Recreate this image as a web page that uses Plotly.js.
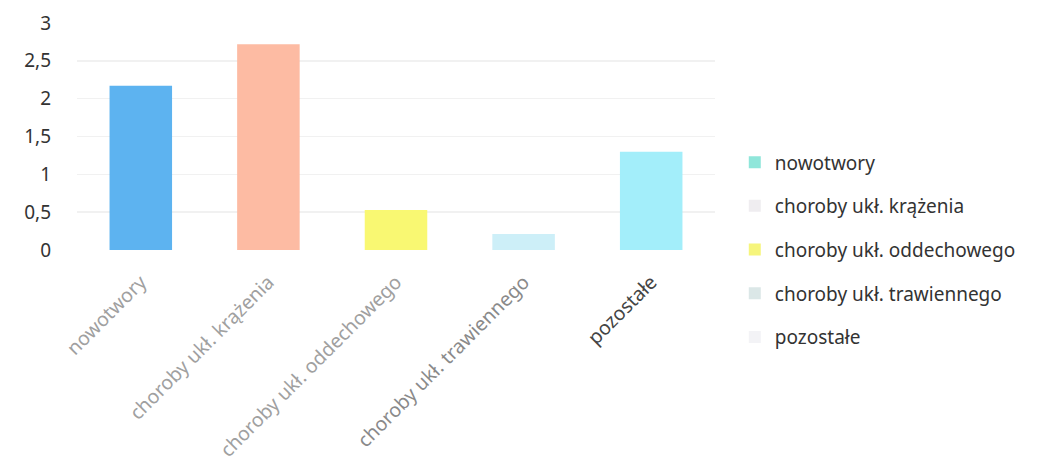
<!DOCTYPE html>
<html><head><meta charset="utf-8">
<script src="https://cdn.plot.ly/plotly-3.0.1.min.js"></script>
<style>html,body{margin:0;padding:0;background:#fff;}#c{width:1053px;height:474px;}</style>
</head><body><div id="c"></div>
<script>
const categories = ["nowotwory", "choroby ukł. krążenia", "choroby ukł. oddechowego", "choroby ukł. trawiennego", "pozostałe"];
const values = [2.17, 2.72, 0.53, 0.21, 1.3];
const barColors = ["#5db3f0", "#fdbba3", "#f9f872", "#cdeff8", "#a3eefa"];
const legendColors = ["#8fe6da", "#efedf0", "#f6f57c", "#dbe7e7", "#f3f3f6"];
const tickColors = ["#a0a0a0", "#a0a0a0", "#a0a0a0", "#8a8a8a", "#444444"];
const yTicks = [0, 0.5, 1, 1.5, 2, 2.5, 3];

const traces = [];
categories.forEach((c, i) => {
  traces.push({type: 'bar', x: [c], y: [values[i]], marker: {color: barColors[i]},
    showlegend: false, hoverinfo: 'x+y'});
});
categories.forEach((c, i) => {
  traces.push({type: 'bar', x: [c], y: [null], name: c, legendgroup: 'g' + i,
    marker: {color: legendColors[i]}, showlegend: true});
});

const layout = {
  width: 1053, height: 474,
  margin: {l: 77, r: 338, t: 23, b: 224},
  paper_bgcolor: '#fff', plot_bgcolor: '#fff',
  separators: ', ',
  barmode: 'overlay', bargap: 0.51,
  font: {family: 'Noto Sans, Open Sans, sans-serif', color: '#333'},
  xaxis: {type: 'category', categoryorder: 'array', categoryarray: categories,
    tickangle: -45, tickfont: {size: 19.5, color: '#a0a0a0'}, showgrid: false,
    tickvals: categories, ticklabelstandoff: 16,
    ticktext: categories.map((c, i) => '<span style="color:' + tickColors[i] + '">' + c + '</span>'),
    showline: false, zeroline: false},
  yaxis: {range: [0, 3], tickvals: yTicks, tickformat: '.1~f', tickfont: {size: 19, color: '#333'},
    gridcolor: '#f1f1f1', gridwidth: 1.5, zeroline: false, showline: false, ticklabelstandoff: 25},
  legend: {x: 1.031, y: 0.47, xanchor: 'left', yanchor: 'top', font: {size: 19, color: '#333'},
    tracegroupgap: 16, itemwidth: 30, bgcolor: 'rgba(0,0,0,0)'}
};
Plotly.newPlot('c', traces, layout, {displayModeBar: false, staticPlot: true});
</script></body></html>
